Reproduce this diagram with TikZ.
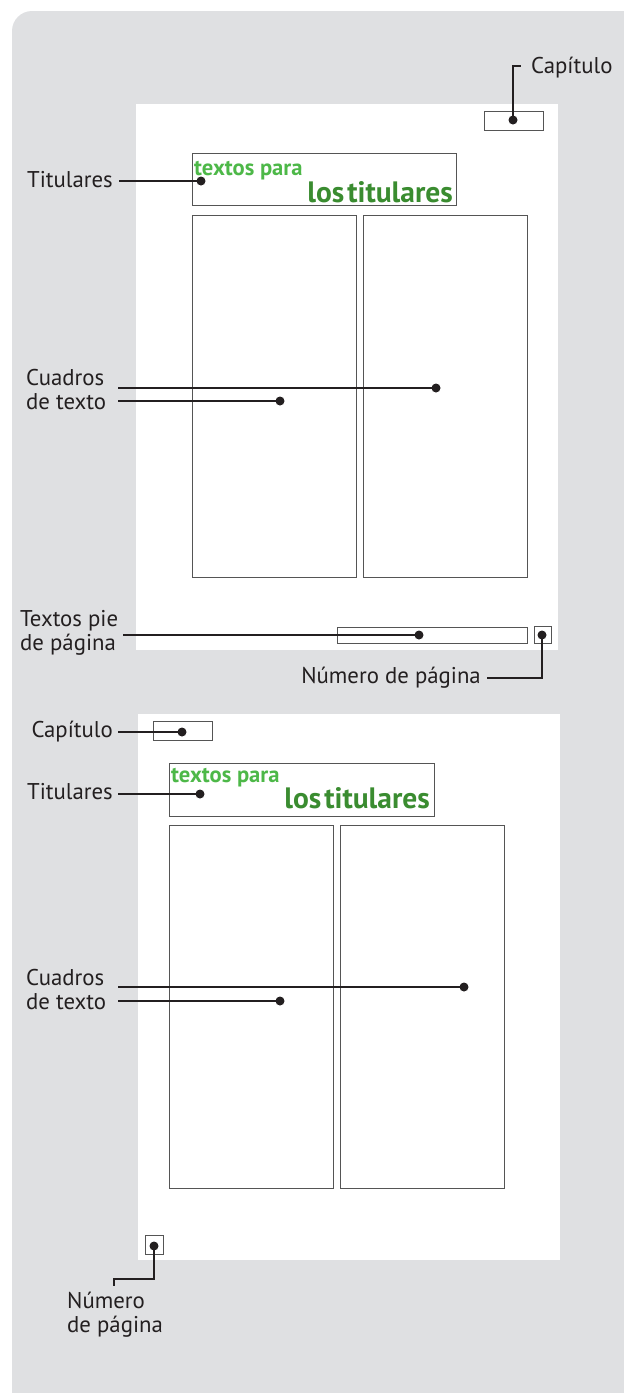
\documentclass[tikz,border=0pt]{standalone}
\usepackage{fontspec}
\setmainfont{PT Sans}
\definecolor{bgray}{HTML}{DFE0E2}
\definecolor{boxline}{HTML}{555555}
\definecolor{conline}{HTML}{231F20}
\definecolor{lgreen}{HTML}{4DB848}
\definecolor{dgreen}{HTML}{3A8C30}
\begin{document}
\begin{tikzpicture}[x=1pt,y=-1pt,
  page/.style={fill=white,draw=none},
  frame/.style={draw=boxline,line width=1pt,inner sep=0pt,anchor=north west},
  dotmark/.style={circle,fill=conline,inner sep=0pt,minimum size=9pt},
  conn/.style={draw=conline,line width=1.3pt},
  lab/.style={font=\fontsize{22.8}{24}\selectfont,text=conline,inner sep=0pt,align=left},
  hsmall/.style={font=\fontsize{22.6}{24}\bfseries\selectfont,text=lgreen,inner sep=0pt,anchor=base west},
  hbig/.style={font=\fontsize{29.5}{32}\bfseries\selectfont,text=dgreen,inner sep=0pt,anchor=base east}]
\useasboundingbox (0,0) rectangle (624,1393);
\begin{scope}
  \clip (0,0) rectangle (624,1393);
  \fill[bgray,rounded corners=20pt] (12,11) rectangle (680,1450);
\end{scope}
% pages
\fill[page] (136,104) rectangle (558,650);
\fill[page] (138,714) rectangle (560,1260);

% ---------- page 1 ----------
\node[frame,minimum width=59pt,minimum height=19pt] (cap1) at (484,111) {};
\node[frame,minimum width=264pt,minimum height=52pt] (tit1) at (192,153) {};
\node[frame,minimum width=164pt,minimum height=362pt] (colL1) at (192,215) {};
\node[frame,minimum width=164pt,minimum height=362pt] (colR1) at (363,215) {};
\node[frame,minimum width=190pt,minimum height=16pt] (foot1) at (337,627) {};
\node[frame,minimum width=17pt,minimum height=17pt] (num1) at (534,626) {};

\node[hsmall] (ts1) at (194,175) {textos para};
\node[hbig] (tb1) at (453,202) {los\hspace{0.1em}titulares};

\node[dotmark] (dcap1) at (513,120) {};
\node[dotmark] (dtit1) at (201,181) {};
\node[dotmark] (dcuA1) at (436,388) {};
\node[dotmark] (dcuB1) at (280,401) {};
\node[dotmark] (dfoot1) at (419,635) {};
\node[dotmark] (dnum1) at (542,635) {};

\node[lab,anchor=base west] (lcap1) at (531,73) {Capítulo};
\node[lab,anchor=base east] (ltit1) at (113,187) {Titulares};
\node[lab,anchor=north west] (lcua1) at (26,369.5) {Cuadros\\de texto};
\node[lab,anchor=north west] (lfoot1) at (20,610.5) {Textos pie\\de página};
\node[lab,anchor=base east] (lnum1) at (481,683) {Número de página};

\coordinate (ccap1a) at (513,66);
\coordinate (ccap1b) at (521,66);
\coordinate (ctit1) at (119,181);
\coordinate (ccuA1) at (118,388);
\coordinate (ccuB1) at (118,401);
\coordinate (cfoot1) at (123,635);
\coordinate (cnum1a) at (542,678);
\coordinate (cnum1b) at (487,678);

\draw[conn] (dcap1.center) -- (ccap1a) -- (ccap1b);
\draw[conn] (ctit1) -- (dtit1.center);
\draw[conn] (ccuA1) -- (dcuA1.center);
\draw[conn] (ccuB1) -- (dcuB1.center);
\draw[conn] (cfoot1) -- (dfoot1.center);
\draw[conn] (dnum1.center) -- (cnum1a) -- (cnum1b);

% ---------- page 2 ----------
\node[frame,minimum width=59pt,minimum height=19pt] (cap2) at (153,721) {};
\node[frame,minimum width=265pt,minimum height=53pt] (tit2) at (169,763) {};
\node[frame,minimum width=164pt,minimum height=363pt] (colL2) at (169,825) {};
\node[frame,minimum width=164pt,minimum height=363pt] (colR2) at (340,825) {};
\node[frame,minimum width=18pt,minimum height=19pt] (num2) at (145,1235) {};

\node[hsmall] (ts2) at (171,782) {textos para};
\node[hbig] (tb2) at (430,808) {los\hspace{0.1em}titulares};

\node[dotmark] (dcap2) at (182,732) {};
\node[dotmark] (dtit2) at (200,794) {};
\node[dotmark] (dcuA2) at (464,987) {};
\node[dotmark] (dcuB2) at (280,1001) {};
\node[dotmark] (dnum2) at (154,1246) {};

\node[lab,anchor=base east] (lcap2) at (113,737) {Capítulo};
\node[lab,anchor=base east] (ltit2) at (113,799) {Titulares};
\node[lab,anchor=north west] (lcua2) at (26,969.5) {Cuadros\\de texto};
\node[lab,anchor=north west] (lnum2) at (67,1292) {Número\\de página};

\coordinate (ccap2) at (118,732);
\coordinate (ctit2) at (118,794);
\coordinate (ccuA2) at (118,987);
\coordinate (ccuB2) at (118,1001);
\coordinate (cnum2a) at (154,1279);
\coordinate (cnum2b) at (114,1279);
\coordinate (cnum2c) at (114,1286);

\draw[conn] (ccap2) -- (dcap2.center);
\draw[conn] (ctit2) -- (dtit2.center);
\draw[conn] (ccuA2) -- (dcuA2.center);
\draw[conn] (ccuB2) -- (dcuB2.center);
\draw[conn] (dnum2.center) -- (cnum2a) -- (cnum2b) -- (cnum2c);
\end{tikzpicture}
\end{document}
